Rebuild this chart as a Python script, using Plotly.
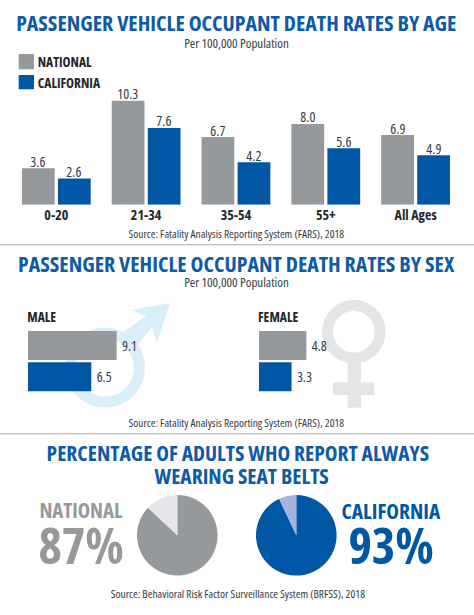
import plotly.graph_objects as go

W, H = 474, 615
FONT = "Open Sans, sans-serif"
GREY, BLUE = "#96999c", "#0057a5"
TITLE = "#0d5ba6"
INK = "#333a40"

age_groups = ["0-20", "21-34", "35-54", "55+", "All Ages"]
age_national = [3.6, 10.3, 6.7, 8.0, 6.9]
age_california = [2.6, 7.6, 4.2, 5.6, 4.9]
sex_series = ["National", "California"]
male_rates = [9.1, 6.5]
female_rates = [4.8, 3.3]
belt_labels = ["Always", "Not always"]
belt_national = [87, 13]
belt_california = [93, 7]
src_fars = "Source: Fatality Analysis Reporting System (FARS), 2018"
src_brfss = "Source: Behavioral Risk Factor Surveillance System (BRFSS), 2018"


def px(x):
    return x / W


def py(y):
    return 1 - y / H


fig = go.Figure()
fmt = lambda v: [f"{a:.1f}" for a in v]
for name, vals, col in [("National", age_national, GREY), ("California", age_california, BLUE)]:
    fig.add_trace(go.Bar(x=age_groups, y=vals, name=name, marker=dict(color=col, line_width=0), xaxis="x", yaxis="y"))
for rates, xa, ya in [(male_rates, "x2", "y2"), (female_rates, "x3", "y3")]:
    fig.add_trace(go.Bar(y=sex_series, x=rates, orientation="h", marker=dict(color=[GREY, BLUE], line_width=0),
                         text=fmt(rates), textposition="outside", cliponaxis=False,
                         textfont=dict(family=FONT, size=14, color=INK), xaxis=xa, yaxis=ya, showlegend=False))
for vals, cols, (x0, x1) in [(belt_national, [GREY, "#e4e6e9"], (137, 217.6)),
                             (belt_california, [BLUE, "#a3b5df"], (256, 336.6))]:
    fig.add_trace(go.Pie(labels=belt_labels, values=vals, sort=False, direction="clockwise", rotation=0,
                         marker=dict(colors=cols, line_width=0), textinfo="none", showlegend=False,
                         domain=dict(x=[px(x0), px(x1)], y=[py(575.6), py(495)])))

shapes = []


def rect(x0, y0, x1, y1, col):
    shapes.append(dict(type="rect", xref="paper", yref="paper", x0=px(x0), x1=px(x1), y0=py(y0), y1=py(y1),
                       fillcolor=col, line_width=0, layer="below"))


def ring(cx, cy, r, lw, col):
    shapes.append(dict(type="circle", xref="paper", yref="paper", x0=px(cx - r), x1=px(cx + r), y0=py(cy + r),
                       y1=py(cy - r), line=dict(color=col, width=lw), fillcolor="rgba(0,0,0,0)", layer="below"))


rect(18.7, 54, 34, 69.3, GREY)
rect(18.7, 75, 34, 89.3, BLUE)
rect(0, 244, 474, 245.5, "#c4c6c8")
rect(0, 433, 474, 434.5, "#c4c6c8")

MALE = "#d9f0fb"
FEMALE = "#e4e5e7"
ring(105, 367.5, 34.5, 11, MALE)
pts = [(170, 303), (157, 343), (152, 327), (136, 347), (122, 333), (146, 316), (131, 310)]
shapes.append(dict(type="path", xref="paper", yref="paper", layer="below", fillcolor=MALE, line_width=0,
                   path="M" + " L".join(f"{px(a):.4f},{py(b):.4f}" for a, b in pts) + " Z"))
ring(353.8, 331.7, 26.3, 11, FEMALE)
rect(347.7, 360, 361, 407.7, FEMALE)
rect(333, 382.3, 374.3, 395, FEMALE)

ann = []


def text(x, y, s, size, col, bold=False):
    ann.append(dict(x=px(x), y=py(y), xref="paper", yref="paper", text=f"<b>{s}</b>" if bold else s,
                    showarrow=False, xanchor="center", yanchor="middle", align="center",
                    font=dict(family=FONT, size=size, color=col)))


text(236, 23, "PASSENGER VEHICLE OCCUPANT DEATH RATES BY AGE", 21.8, TITLE, bold=True)
text(236, 43, "Per 100,000 Population", 13, INK)
text(64.5, 62, "NATIONAL", 13.5, "#22272b", True)
text(69, 83, "CALIFORNIA", 13.5, "#22272b", True)
text(236, 233, src_fars, 11.4, INK)
text(236, 263, "PASSENGER VEHICLE OCCUPANT DEATH RATES BY SEX", 21.8, TITLE, bold=True)
text(236, 282, "Per 100,000 Population", 13, INK)
text(41.5, 317, "MALE", 13.5, "#22272b", True)
text(277.5, 317, "FEMALE", 13.5, "#22272b", True)
text(236, 422, src_fars, 11.4, INK)
text(238, 452, "PERCENTAGE OF ADULTS WHO REPORT ALWAYS", 21.5, TITLE, bold=True)
text(241, 475, "WEARING SEAT BELTS", 21.5, TITLE, bold=True)
text(81, 510, "NATIONAL", 20.8, GREY, bold=True)
text(81, 545, "87%", 50, GREY, bold=True)
text(391, 510, "CALIFORNIA", 21.4, BLUE, bold=True)
text(391, 545, "93%", 50, BLUE, bold=True)
text(238, 593, src_brfss, 11.4, INK)

for vals, shift in [(age_national, -18), (age_california, 18)]:
    for g, v in zip(age_groups, vals):
        ann.append(dict(x=g, y=v, xref="x", yref="y", text=f"{v:.1f}", showarrow=False, xanchor="center",
                        yanchor="middle", xshift=shift, yshift=7, font=dict(family=FONT, size=14, color=INK)))

hidden = dict(visible=False, fixedrange=True)
fig.update_layout(
    width=W, height=H, margin=dict(l=0, r=0, t=0, b=0), paper_bgcolor="white", plot_bgcolor="rgba(0,0,0,0)",
    showlegend=False, barmode="group", bargap=0.198, bargroupgap=0.09, shapes=shapes, annotations=ann,
    xaxis=dict(domain=[px(11.4), px(460.5)], showline=False, showgrid=False, ticks="", tickmode="array",
               tickvals=age_groups, ticktext=[f"<b>{a}</b>" for a in age_groups],
               tickfont=dict(family=FONT, size=14, color="#22272b"), ticklabelstandoff=0),
    yaxis=dict(domain=[py(204.7), py(93.6)], range=[0, 11], **hidden),
    xaxis2=dict(domain=[px(28), px(125.4)], range=[0, 10], anchor="y2", **hidden),
    yaxis2=dict(domain=[py(392.5), py(329.9)], autorange="reversed", anchor="x2", **hidden),
    xaxis3=dict(domain=[px(259), px(357.7)], range=[0, 10], anchor="y3", **hidden),
    yaxis3=dict(domain=[py(392.5), py(329.9)], autorange="reversed", anchor="x3", **hidden),
)
fig.update_traces(selector=dict(type="bar", orientation="h"), width=0.927)
post = """
document.body.style.margin='0';
var st=document.createElement('style');
st.textContent='svg text{font-stretch:75% !important;}';
document.head.appendChild(st);
Plotly.redraw(document.getElementById('{plot_id}'));
"""
fig.write_html("out.html", post_script=post, config={"displayModeBar": False})
